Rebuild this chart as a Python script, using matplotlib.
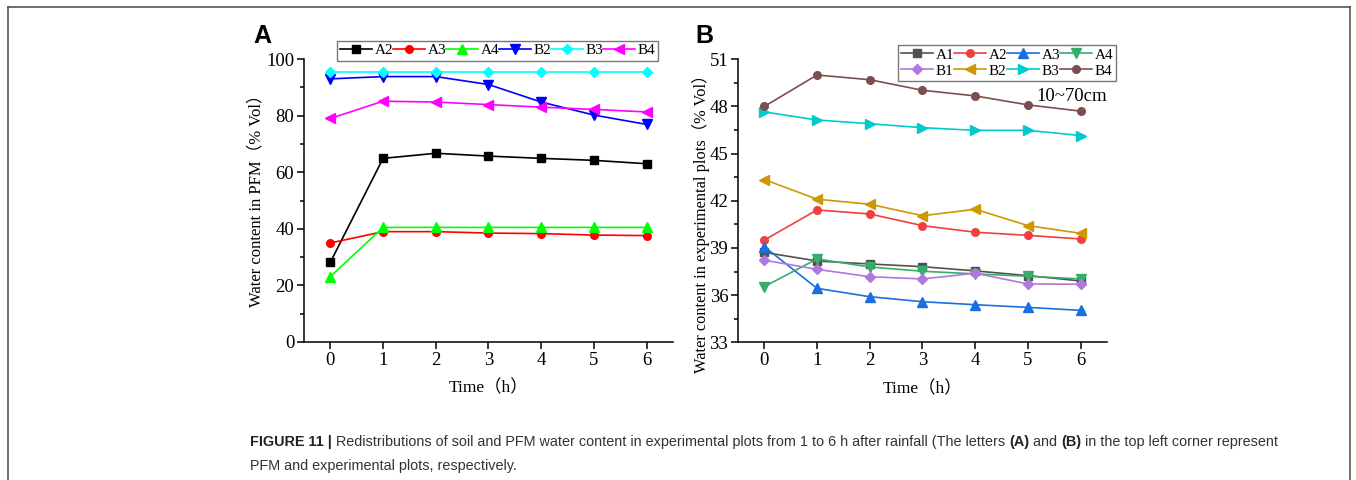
import matplotlib
matplotlib.use("Agg")
import matplotlib.pyplot as plt
from matplotlib.lines import Line2D
from matplotlib.ticker import MultipleLocator

plt.rcParams['font.family'] = ['Liberation Serif', 'Noto Sans CJK SC']
plt.rcParams['axes.linewidth'] = 1.1
plt.rcParams['xtick.direction'] = 'out'
plt.rcParams['ytick.direction'] = 'out'

hours = [0, 1, 2, 3, 4, 5, 6]

# panel A: water content in PFM
pfm_A2 = [28.2, 64.9, 66.7, 65.7, 64.9, 64.2, 63.0]
pfm_A3 = [35.0, 39.0, 39.0, 38.5, 38.3, 37.8, 37.6]
pfm_A4 = [23.1, 40.5, 40.5, 40.5, 40.5, 40.5, 40.5]
pfm_B2 = [93.0, 93.8, 93.8, 91.0, 84.8, 80.2, 76.9]
pfm_B3 = [95.5, 95.5, 95.5, 95.5, 95.5, 95.5, 95.5]
pfm_B4 = [79.0, 85.1, 84.8, 83.9, 83.0, 82.2, 81.3]

# panel B: water content in experimental plots (10~70cm)
exp_A1 = [38.72, 38.17, 37.98, 37.81, 37.54, 37.24, 36.90]
exp_A2 = [39.50, 41.42, 41.16, 40.42, 40.00, 39.80, 39.57]
exp_A3 = [39.08, 36.43, 35.90, 35.58, 35.39, 35.22, 35.03]
exp_A4 = [36.54, 38.30, 37.79, 37.52, 37.35, 37.20, 37.03]
exp_B1 = [38.22, 37.64, 37.17, 37.03, 37.39, 36.71, 36.69]
exp_B2 = [43.35, 42.10, 41.78, 41.05, 41.46, 40.42, 39.93]
exp_B3 = [47.65, 47.14, 46.90, 46.65, 46.48, 46.48, 46.15]
exp_B4 = [48.00, 50.00, 49.70, 49.03, 48.67, 48.10, 47.70]

fig = plt.figure(figsize=(13.56, 4.8), dpi=100)
axA = fig.add_axes([0.2242, 0.2875, 0.2721, 0.5895])
axB = fig.add_axes([0.5442, 0.2869, 0.2722, 0.5896])

ms = 5.5
lw = 1.2

axA.plot(hours, pfm_A2, '-s', color='black', ms=ms, lw=lw, label='A2')
axA.plot(hours, pfm_A3, '-o', color='#ff0000', ms=ms, lw=lw, label='A3')
axA.plot(hours, pfm_A4, '-^', color='#00ff00', ms=ms + 1, lw=lw, label='A4')
axA.plot(hours, pfm_B2, '-v', color='#0000ff', ms=ms + 1, lw=lw, label='B2')
axA.plot(hours, pfm_B3, '-D', color='#00ffff', ms=ms, lw=lw, label='B3')
axA.plot(hours, pfm_B4, '-<', color='#ff00ff', ms=ms + 1, lw=lw, label='B4')

lB = {}
lB['A1'], = axB.plot(hours, exp_A1, '-s', color='#515151', ms=ms, lw=lw, label='A1')
lB['A2'], = axB.plot(hours, exp_A2, '-o', color='#F14040', ms=ms, lw=lw, label='A2')
lB['A3'], = axB.plot(hours, exp_A3, '-^', color='#1A6FDF', ms=ms + 1, lw=lw, label='A3')
lB['A4'], = axB.plot(hours, exp_A4, '-v', color='#37AD6B', ms=ms + 1, lw=lw, label='A4')
lB['B1'], = axB.plot(hours, exp_B1, '-D', color='#B177DE', ms=ms, lw=lw, label='B1')
lB['B2'], = axB.plot(hours, exp_B2, '-<', color='#CC9900', ms=ms + 1, lw=lw, label='B2')
lB['B3'], = axB.plot(hours, exp_B3, '->', color='#00CBCC', ms=ms + 1, lw=lw, label='B3')
lB['B4'], = axB.plot(hours, exp_B4, '-o', color='#7D4E4E', ms=ms, lw=lw, label='B4')

for ax in (axA, axB):
    ax.spines['top'].set_visible(False)
    ax.spines['right'].set_visible(False)
    ax.set_xlim(-0.5, 6.5)
    ax.set_xticks(hours)
    ax.tick_params(axis='both', which='major', length=5, width=1.1, labelsize=13.5, pad=2)
    ax.tick_params(axis='y', which='minor', length=3, width=1.1)
    ax.set_xlabel('Time（h）', fontsize=12.5)
    ax.xaxis.set_label_coords(0.5, -0.135)

axA.set_ylim(0, 100)
axA.yaxis.set_major_locator(MultipleLocator(20))
axA.yaxis.set_minor_locator(MultipleLocator(10))
axA.set_ylabel('Water content in PFM（% Vol）', fontsize=12)
axA.yaxis.set_label_coords(-0.106, 0.514)

axB.set_ylim(33, 51)
axB.yaxis.set_major_locator(MultipleLocator(3))
axB.yaxis.set_minor_locator(MultipleLocator(1.5))
axB.set_ylabel('Water content in experimental plots（% Vol）', fontsize=11.8)
axB.yaxis.set_label_coords(-0.076, 0.432)

axB.text(1.0, 0.867, '10~70cm', transform=axB.transAxes, ha='right', va='center',
         fontsize=13.5)

leg_kw = dict(bbox_transform=fig.transFigure, fontsize=11, frameon=True, fancybox=False,
              edgecolor='#555555', handlelength=2.1, handletextpad=0.15, columnspacing=0.0,
              borderpad=0.2, labelspacing=0.15, borderaxespad=0, loc='upper left')
legA = axA.legend(bbox_to_anchor=(0.2485, 0.9152), ncol=6, **leg_kw)
legA.get_frame().set_linewidth(1.0)
orderB = ['A1', 'B1', 'A2', 'B2', 'A3', 'B3', 'A4', 'B4']
legB = axB.legend([lB[k] for k in orderB], orderB, bbox_to_anchor=(0.6622, 0.9063),
                  ncol=4, **leg_kw)
legB.get_frame().set_linewidth(1.0)

fig.text(0.1866, 0.910, 'A', fontsize=18, fontweight='bold', family='Liberation Sans')
fig.text(0.5125, 0.910, 'B', fontsize=18, fontweight='bold', family='Liberation Sans')

# caption, bold and regular pieces chained one after another
cap_font = ['Liberation Sans']
cap_size = 10.4
cap_parts = [('FIGURE 11 | ', 'bold'),
             ('Redistributions of soil and PFM water content in experimental plots from 1 to 6 h '
              'after rainfall (The letters ', 'normal'),
             ('(A)', 'bold'), (' and ', 'normal'), ('(B)', 'bold'),
             (' in the top left corner represent', 'normal')]
last = None
for txt, wt in cap_parts:
    col = '#222222' if wt == 'bold' else '#333333'
    if last is None:
        last = fig.text(250 / 1356, 1 - 446 / 480, txt, fontsize=cap_size, fontweight=wt,
                        family=cap_font, color=col, va='baseline')
    else:
        last = plt.annotate(txt, xy=(1, 0), xycoords=last, va='bottom', ha='left',
                            fontsize=cap_size, fontweight=wt, family=cap_font, color=col)
fig.text(250 / 1356, 1 - 470 / 480, 'PFM and experimental plots, respectively.',
         fontsize=cap_size, family=cap_font, color='#333333', va='baseline')

# outer frame (top, left, right)
fx0, fx1, fy1 = 8 / 1356, 1350 / 1356, 1 - 7 / 480
for xs, ys in (([fx0, fx1], [fy1, fy1]), ([fx0, fx0], [0, fy1]), ([fx1, fx1], [0, fy1])):
    fig.add_artist(Line2D(xs, ys, color='#555555', lw=1.2, transform=fig.transFigure))

fig.savefig('out.png', dpi=100)
